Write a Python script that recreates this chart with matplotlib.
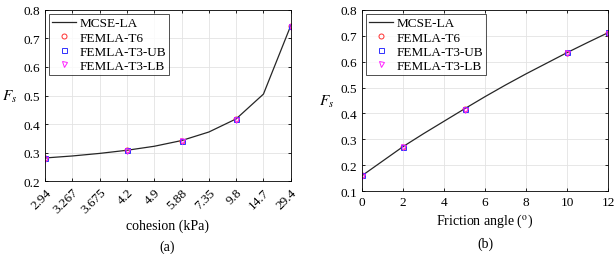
import numpy as np
import matplotlib.pyplot as plt

plt.rcParams['font.family'] = ['Liberation Serif', 'DejaVu Serif']
plt.rcParams['mathtext.fontset'] = 'stix'

# (a) cohesion
coh_labels = ['2.94', '3.267', '3.675', '4.2', '4.9', '5.88', '7.35', '9.8', '14.7', '29.4']
coh_line = [0.281, 0.288, 0.297, 0.308, 0.322, 0.342, 0.372, 0.418, 0.505, 0.745]
coh_pts_idx = [0, 3, 5, 7, 9]
coh_t6 = [0.281, 0.308, 0.342, 0.418, 0.745]
coh_ub = [0.281, 0.308, 0.342, 0.419, 0.745]
coh_lb = [0.279, 0.306, 0.339, 0.414, 0.742]

# (b) friction angle
phi_line_x = [0, 1, 2, 3, 4, 5, 6, 7, 8, 9, 10, 11, 12]
phi_line = [0.160, 0.216, 0.272, 0.322, 0.370, 0.418, 0.465, 0.510, 0.553, 0.594, 0.635, 0.674, 0.712]
phi_pts = [0, 2, 5, 10, 12]
phi_t6 = [0.160, 0.272, 0.418, 0.635, 0.712]
phi_ub = [0.160, 0.272, 0.419, 0.636, 0.713]
phi_lb = [0.158, 0.269, 0.414, 0.632, 0.709]

fs = 9.5
fig = plt.figure(figsize=(6.16, 2.55), dpi=100)
ax1 = fig.add_axes([0.073, 0.286, 0.399, 0.671])
ax2 = fig.add_axes([0.588, 0.247, 0.399, 0.710])

mk = dict(linestyle='none', markersize=3.6, markerfacecolor='none', markeredgewidth=0.7)

def draw(ax, lx, ly, px, t6, ub, lb):
    ax.plot(lx, ly, color='#262626', lw=0.9, label='MCSE-LA')
    ax.plot(px, t6, marker='o', color='#ff3030', label='FEMLA-T6', **mk)
    ax.plot(px, ub, marker='s', color='#3030ff', label='FEMLA-T3-UB', **mk)
    ax.plot(px, lb, marker='v', color='#ff20ff', label='FEMLA-T3-LB', **mk)
    ax.grid(True, color='#e3e3e3', lw=0.6)
    ax.set_axisbelow(True)
    ax.tick_params(labelsize=fs, direction='in', length=2.5, width=0.6, top=True, right=True)
    for s in ax.spines.values():
        s.set_linewidth(0.6)
    ax.set_ylabel('$F_s$', fontsize=11, rotation=0, va='center', labelpad=10)
    leg = ax.legend(loc='upper left', fontsize=fs, frameon=True, fancybox=False,
                    edgecolor='black', handlelength=1.8, borderpad=0.25, labelspacing=0.15,
                    handletextpad=0.25, borderaxespad=0.3)
    leg.get_frame().set_linewidth(0.6)

draw(ax1, range(len(coh_line)), coh_line, coh_pts_idx, coh_t6, coh_ub, coh_lb)
ax1.set_xlim(0, len(coh_line) - 1)
ax1.set_ylim(0.2, 0.8)
ax1.set_yticks(np.arange(0.2, 0.81, 0.1))
ax1.set_xticks(range(len(coh_labels)))
ax1.set_xticklabels(coh_labels, rotation=45, ha='right', rotation_mode='anchor')
ax1.set_xlabel('cohesion (kPa)', fontsize=fs + 0.5, labelpad=2)
fig.text(0.272, 0.015, '(a)', ha='center', fontsize=fs + 0.5)

draw(ax2, phi_line_x, phi_line, phi_pts, phi_t6, phi_ub, phi_lb)
ax2.set_xlim(0, 12)
ax2.set_ylim(0.1, 0.8)
ax2.set_yticks(np.arange(0.1, 0.81, 0.1))
ax2.set_xticks([0, 2, 4, 6, 8, 10, 12])
ax2.set_xlabel('Friction angle ($^{\\mathrm{o}}$)', fontsize=fs + 0.5, labelpad=3)
fig.text(0.788, 0.03, '(b)', ha='center', fontsize=fs + 0.5)

fig.savefig('out.png', dpi=100)
